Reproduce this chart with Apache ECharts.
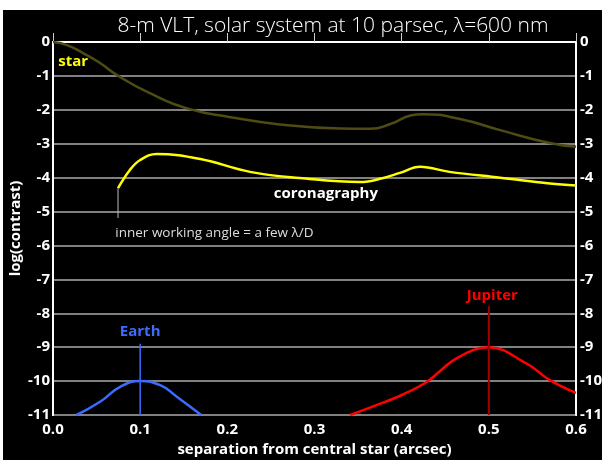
<!DOCTYPE html>
<html>
<head>
<meta charset="utf-8">
<script src="https://cdn.jsdelivr.net/npm/echarts@6/dist/echarts.min.js"></script>
<style>
  html, body { margin: 0; padding: 0; background: #fff; }
  #chart { position: absolute; left: 3px; top: 10px; width: 599px; height: 450px; }
</style>
</head>
<body>
<div id="chart"></div>
<script>
// curves: separation (arcsec) -> log(contrast)
var starX = [0, 0.016, 0.034, 0.054, 0.073, 0.111, 0.157, 0.202, 0.26, 0.329, 0.364, 0.387, 0.41, 0.424, 0.467, 0.513, 0.57, 0.6]
var starY = [0, -0.09, -0.32, -0.62, -0.97, -1.51, -1.98, -2.21, -2.43, -2.55, -2.56, -2.42, -2.17, -2.13, -2.27, -2.6, -2.98, -3.09]

var coronaX = [0.0746, 0.088, 0.1, 0.119, 0.169, 0.226, 0.283, 0.352, 0.379, 0.398, 0.421, 0.455, 0.513, 0.57, 0.6]
var coronaY = [-4.31, -3.78, -3.48, -3.3, -3.45, -3.83, -4.01, -4.13, -4.01, -3.86, -3.68, -3.83, -4.0, -4.17, -4.23]

var earthX = [0.027, 0.054, 0.077, 0.1, 0.123, 0.142, 0.17]
var earthY = [-11, -10.61, -10.17, -10, -10.12, -10.46, -11]

var jupiterX = [0.341, 0.371, 0.4, 0.429, 0.463, 0.5, 0.543, 0.57, 0.6]
var jupiterY = [-11, -10.71, -10.41, -10.02, -9.33, -9, -9.48, -9.97, -10.35]

var yTicks = [0, -1, -2, -3, -4, -5, -6, -7, -8, -9, -10, -11]

function pairs(xs, ys) {
  return xs.map(function (x, i) { return [x, ys[i]] })
}

var chart = echarts.init(document.getElementById('chart'))

var tickFont = { color: '#fff', fontWeight: 'bold', fontSize: 15, fontFamily: 'Open Sans' }

var option = {
  backgroundColor: '#000',
  animation: false,
  title: {
    text: '8-m VLT, solar system at 10 parsec, \u03bb=600 nm',
    left: 325,
    textAlign: 'center',
    top: 1,
    textStyle: { color: '#fff', fontSize: 21, fontWeight: 300, fontFamily: 'Open Sans' }
  },
  grid: {
    left: 50, right: 26, top: 32, bottom: 45,
    outerBoundsMode: 'none',
    show: true, borderColor: '#fff', borderWidth: 2
  },
  xAxis: {
    type: 'value', min: 0, max: 0.6, interval: 0.1,
    name: 'separation from central star (arcsec)',
    nameLocation: 'middle', nameGap: 26,
    nameTextStyle: { color: '#fff', fontWeight: 'bold', fontSize: 15, fontFamily: 'Open Sans' },
    axisLine: { show: true, lineStyle: { color: '#fff', width: 2 } },
    axisTick: { show: true, inside: true, length: 9, lineStyle: { color: '#ccc', width: 1 } },
    splitLine: { show: false },
    axisLabel: Object.assign({ margin: 7, formatter: function (v) { return v.toFixed(1) } }, tickFont)
  },
  yAxis: [{
    type: 'value', min: -11, max: 0, interval: 1,
    name: 'log(contrast)',
    nameLocation: 'middle', nameGap: 30, nameRotate: 90,
    nameMoveOverlap: false,
    nameTextStyle: { color: '#fff', fontWeight: 'bold', fontSize: 15, fontFamily: 'Open Sans' },
    axisLine: { show: true, lineStyle: { color: '#fff', width: 2 } },
    axisTick: { show: false },
    splitLine: { show: true, lineStyle: { color: '#808080', width: 2 } },
    axisLabel: Object.assign({ margin: 3, formatter: function (v) { return yTicks.indexOf(v) >= 0 ? String(v) : '' } }, tickFont)
  }, {
    type: 'value', min: -11, max: 0, interval: 1, position: 'right',
    axisLine: { show: true, lineStyle: { color: '#fff', width: 2 } },
    axisTick: { show: false },
    splitLine: { show: false },
    axisLabel: Object.assign({ margin: 4 }, tickFont)
  }],
  series: [
    {
      name: 'star', type: 'line', smooth: 0.5, showSymbol: false,
      data: pairs(starX, starY),
      lineStyle: { color: '#4e4c12', width: 2.5 },
      markPoint: {
        symbol: 'circle', symbolSize: 0,
        data: [{ coord: [0.006, -0.59], label: { show: true, formatter: 'star', position: 'right', distance: 0, color: '#ffff00', fontWeight: 'bold', fontSize: 15, fontFamily: 'Open Sans' } }]
      }
    },
    {
      name: 'coronagraphy', type: 'line', smooth: 0.4, showSymbol: false,
      data: pairs(coronaX, coronaY),
      lineStyle: { color: '#ffff00', width: 2.5 },
      markPoint: {
        symbol: 'circle', symbolSize: 0,
        data: [
          { coord: [0.313, -4.48], label: { show: true, formatter: 'coronagraphy', position: 'inside', color: '#fff', fontWeight: 'bold', fontSize: 15, fontFamily: 'Open Sans' } },
          { coord: [0.0715, -5.63], label: { show: true, formatter: 'inner working angle = a few \u03bb/D', position: 'right', distance: 0, color: '#ddd', fontSize: 13.5, fontFamily: 'Open Sans' } }
        ]
      }
    },
    {
      name: 'iwa', type: 'line', showSymbol: false,
      data: [[0.0746, -4.31], [0.0746, -5.19]],
      lineStyle: { color: '#bbb', width: 1 }
    },
    {
      name: 'Earth', type: 'line', smooth: 0.5, showSymbol: false,
      data: pairs(earthX, earthY),
      lineStyle: { color: '#3b6cff', width: 2.5 },
      markPoint: {
        symbol: 'circle', symbolSize: 0,
        data: [{ coord: [0.1, -8.55], label: { show: true, formatter: 'Earth', position: 'inside', color: '#3b6cff', fontWeight: 'bold', fontSize: 15, fontFamily: 'Open Sans' } }]
      }
    },
    {
      name: 'earthLine', type: 'line', showSymbol: false,
      data: [[0.1, -8.9], [0.1, -11]],
      lineStyle: { color: '#3b6cff', width: 1.5 }
    },
    {
      name: 'Jupiter', type: 'line', smooth: 0.4, showSymbol: false,
      data: pairs(jupiterX, jupiterY),
      lineStyle: { color: '#ff0000', width: 2.5 },
      markPoint: {
        symbol: 'circle', symbolSize: 0,
        data: [{ coord: [0.504, -7.49], label: { show: true, formatter: 'Jupiter', position: 'inside', color: '#ff0000', fontWeight: 'bold', fontSize: 15, fontFamily: 'Open Sans' } }]
      }
    },
    {
      name: 'jupiterLine', type: 'line', showSymbol: false,
      data: [[0.5, -7.79], [0.5, -11]],
      lineStyle: { color: '#a00000', width: 2 }
    }
  ]
}

chart.setOption(option)
</script>
</body>
</html>
